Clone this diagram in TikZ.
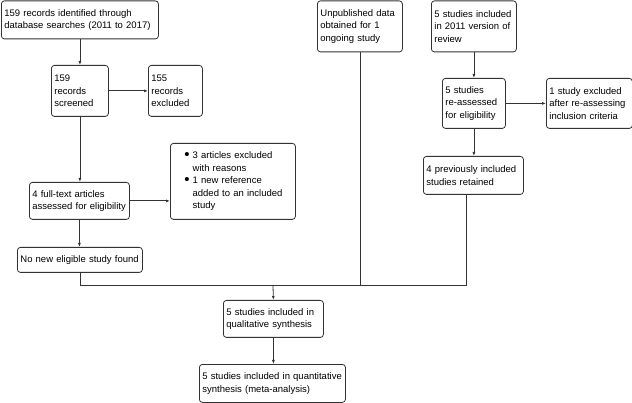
\documentclass[tikz,border=0pt]{standalone}
\usepackage{fontspec}
\setmainfont{Liberation Sans}
\usepackage{tikz}
\usetikzlibrary{arrows.meta}

\tikzset{
    box/.style={draw=black!80, line width=0.8pt, rounded corners=3pt, anchor=north west,
        align=left, inner xsep=3pt, inner ysep=2pt, font=\fontsize{9.5}{12.5}\selectfont},
    link/.style={draw=black!80, line width=0.8pt},
    arr/.style={link, -{Latex[length=4pt,width=3pt]}}
}
\newcommand{\bigdot}{\raisebox{-0.8pt}{\fontsize{15}{12.5}\selectfont\textbullet}}

\begin{document}
\begin{tikzpicture}[x=1pt,y=-1pt]

\useasboundingbox (0,0) rectangle (632,403);

% Left branch: search
\node[box, text width=151pt, minimum height=38pt] (found) at (1,0.5)
    {159 records identified through\\database searches (2011 to 2017)};
\node[box, text width=51pt, minimum height=51pt] (screened) at (51,65)
    {159\\records\\screened};
\node[box, text width=48pt, minimum height=51pt] (dropped) at (148,65)
    {155\\records\\excluded};
\node[box, text width=94pt, minimum height=37pt] (fulltext) at (29,182)
    {4 full-text articles\\assessed for eligibility};
\node[box, text width=119pt, minimum height=76pt] (reasons) at (170,143)
    {\hspace*{11pt}\begin{tabular}{@{}l@{\hspace{3pt}}l@{}}
     \bigdot & 3 articles excluded\\ & with reasons\\
     \bigdot & 1 new reference\\ & added to an included\\ & study
     \end{tabular}};
\node[box, text width=119pt, minimum height=25pt] (nonew) at (17,247)
    {No new eligible study found};

% Middle: unpublished data
\node[box, text width=79pt, minimum height=51pt] (unpub) at (317,0.5)
    {Unpublished data\\obtained for 1\\ongoing study};

% Right branch: earlier review
\node[box, text width=79pt, minimum height=51pt] (review) at (431,0.5)
    {5 studies included\\in 2011 version of\\review};
\node[box, text width=57pt, minimum height=50pt] (reassess) at (442,78)
    {5 studies\\re-assessed\\for eligibility};
\node[box, text width=80pt, minimum height=50pt] (removed) at (546,78)
    {1 study excluded\\after re-assessing\\inclusion criteria};
\node[box, text width=94pt, minimum height=38pt] (kept) at (423,156)
    {4 previously included\\studies retained};

% Synthesis
\node[box, text width=94pt, minimum height=37pt] (qual) at (223,300)
    {5 studies included in\\qualitative synthesis};
\node[box, text width=140pt, minimum height=38pt] (quant) at (199,364)
    {5 studies included in quantitative\\synthesis (meta-analysis)};

% Arrows
\draw[arr] (screened.north |- found.south) -- (screened.north);
\draw[arr] (screened.east) -- (dropped.west);
\draw[arr] (screened.south) -- (screened.south |- fulltext.north);
\draw[arr] (fulltext.east) -- (fulltext.east -| reasons.west);
\draw[arr] (fulltext.south) -- (fulltext.south |- nonew.north);
\draw[arr] (review.south) -- (reassess.north);
\draw[arr] (reassess.east) -- (removed.west);
\draw[arr] (reassess.south) -- (reassess.south |- kept.north);

% Merge line
\coordinate (merge) at (273,285.5);
\draw[link] (nonew.south) |- (merge);
\draw[link] ([xshift=-7pt]kept.south) |- (merge);
\draw[link] (unpub.south) |- (merge);
\draw[arr] (merge) -- (qual.north);
\draw[arr] (qual.south) -- (qual.south |- quant.north);

\end{tikzpicture}
\end{document}
